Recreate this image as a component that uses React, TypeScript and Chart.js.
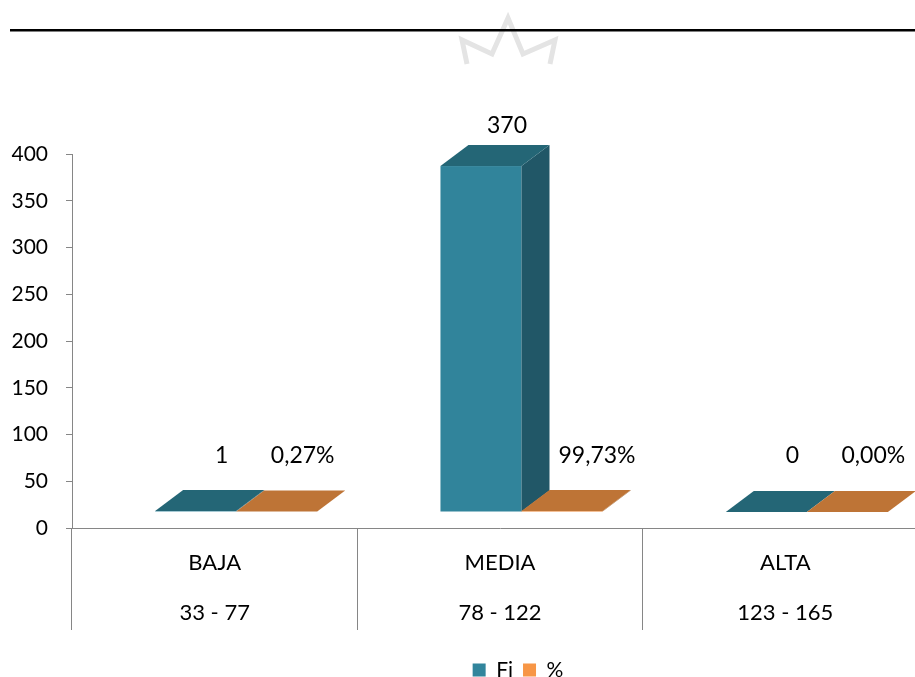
import React, { useEffect, useRef } from "react";
import { Chart, registerables } from "chart.js";

Chart.register(...registerables);

// ---- data ----
const categoryNames = ["BAJA", "MEDIA", "ALTA"];
const categoryRanges = ["33 - 77", "78 - 122", "123 - 165"];
const seriesNames = ["Fi", "%"];
const fiValues = [1, 370, 0];
const pctValues = [0.0027, 0.9973, 0];
const yTicks = [0, 50, 100, 150, 200, 250, 300, 350, 400];

// ---- styling / layout ----
const FONT = "Lato";
const W = 928;
const H = 692;
const AREA_LEFT = 72;
const AREA_TOP = 154;
const AREA_BOTTOM = 528;
const DX = 28;
const DY = -21;
const SHIFT_X = 21.5;
const SHIFT_Y = -16;
const TICK_SIZE = 21;
const CAT_SIZE = 22;
const LABEL_SIZE = 23;
const LEG_SIZE = 21;
const LEG_BOX = 13;
const LEG_PAD = 10;
const LEG_CENTER_X = 518;
const LEG_CENTER_Y = 670;
const LEG_H = Math.max(LEG_SIZE, LEG_BOX) + LEG_PAD + 10;

const palette = [
  { legend: "#31859C", front: "#31849B", top: "#246676", side: "#215767" },
  { legend: "#F79646", front: "#E46C0A", top: "#BE7436", side: "#9A5A24" },
];

const fmtLabel = (di: number, v: number) =>
  di === 0 ? String(v) : (v * 100).toFixed(2).replace(".", ",") + "%";

const bars3d = {
  id: "bars3d",
  beforeDatasetsDraw(chart: any) {
    const ctx = chart.ctx;
    ctx.save();
    ctx.font = `${LABEL_SIZE}px ${FONT}`;
    const labels: { x: number; y: number; text: string }[] = [];
    const boxes: { l: number; r: number; t: number; b: number }[][] = [];
    chart.data.datasets.forEach((ds: any, di: number) => {
      const meta = chart.getDatasetMeta(di);
      const col = palette[di];
      boxes[di] = [];
      meta.data.forEach((el: any, i: number) => {
        const { x, y, base, width } = el.getProps(["x", "y", "base", "width"], true);
        const l = x - width / 2 + SHIFT_X;
        const r = l + width;
        const t = Math.min(y, base) + SHIFT_Y;
        const b = base + SHIFT_Y;
        boxes[di][i] = { l, r, t, b };
        if (b - t > 0.3) {
          ctx.fillStyle = col.front;
          ctx.fillRect(l, t, width, b - t);
        }
        ctx.fillStyle = col.side;
        ctx.beginPath();
        ctx.moveTo(r, t);
        ctx.lineTo(r + DX, t + DY);
        ctx.lineTo(r + DX, b + DY);
        ctx.lineTo(r, b);
        ctx.closePath();
        ctx.fill();
        ctx.fillStyle = col.top;
        ctx.beginPath();
        ctx.moveTo(l, t);
        ctx.lineTo(l + DX, t + DY);
        ctx.lineTo(r + DX, t + DY);
        ctx.lineTo(r, t);
        ctx.closePath();
        ctx.fill();
        const text = fmtLabel(di, ds.data[i]);
        let lx = x + SHIFT_X + DX - 2;
        const ly = Math.min(t + DY - 19, b + DY - 35);
        // keep clear of the previous series' bar in the same category
        if (di > 0) {
          const pb = boxes[di - 1][i];
          const w = ctx.measureText(text).width;
          if (pb && pb.t + DY < ly && lx - w / 2 < pb.r + DX + 9) {
            lx = pb.r + DX + 9 + w / 2;
          }
        }
        labels.push({ x: lx, y: ly, text });
      });
    });
    ctx.fillStyle = "#000";
    ctx.textAlign = "center";
    ctx.textBaseline = "middle";
    labels.forEach((lb) => ctx.fillText(lb.text, lb.x, lb.y));
    ctx.restore();
    return false;
  },
};

const legendPlacer = {
  id: "legendPlacer",
  beforeDraw(chart: any) {
    const lg = chart.legend;
    if (!lg) return;
    lg.left = LEG_CENTER_X - 400;
    lg.right = LEG_CENTER_X + 400;
    lg.top = LEG_CENTER_Y - LEG_PAD - Math.max(LEG_SIZE, LEG_BOX) / 2;
  },
};

export default function App() {
  const ref = useRef<HTMLCanvasElement>(null);
  useEffect(() => {
    Chart.defaults.font.family = FONT;
    const chart = new Chart(ref.current as HTMLCanvasElement, {
      type: "bar",
      data: {
        labels: categoryNames.map((n, i) => [n, categoryRanges[i]]),
        datasets: [
          { label: seriesNames[0], data: fiValues, backgroundColor: palette[0].legend, borderWidth: 0 },
          { label: seriesNames[1], data: pctValues, backgroundColor: palette[1].legend, borderWidth: 0 },
        ],
      },
      options: {
        responsive: false,
        animation: false,
        devicePixelRatio: 1,
        layout: { padding: { top: AREA_TOP, left: 0, right: 0, bottom: 0 } },
        datasets: { bar: { categoryPercentage: 0.568, barPercentage: 1 } } as any,
        plugins: {
          tooltip: { enabled: false },
          title: { display: false },
          legend: {
            display: true,
            position: "bottom",
            labels: {
              boxWidth: LEG_BOX,
              boxHeight: LEG_BOX,
              padding: LEG_PAD,
              color: "#000",
              font: { family: FONT, size: LEG_SIZE },
            },
          },
        },
        scales: {
          x: {
            type: "category",
            offset: true,
            grid: {
              display: true,
              offset: true,
              drawOnChartArea: false,
              drawTicks: true,
              tickLength: 102,
              color: "#868686",
              lineWidth: 1,
            },
            border: { display: true, color: "#868686", width: 1 },
            ticks: {
              color: "#000",
              font: { family: FONT, size: CAT_SIZE, lineHeight: 50 / CAT_SIZE },
              padding: -92,
              maxRotation: 0,
              minRotation: 0,
              autoSkip: false,
            },
            afterFit: (s: any) => {
              s.height = H - LEG_H - AREA_BOTTOM;
            },
          },
          y: {
            type: "linear",
            min: 0,
            max: 400,
            afterBuildTicks: (s: any) => {
              s.ticks = yTicks.map((v) => ({ value: v }));
            },
            afterFit: (s: any) => {
              s.width = AREA_LEFT;
            },
            grid: {
              display: true,
              drawOnChartArea: false,
              drawTicks: true,
              tickLength: 6,
              color: "#868686",
              lineWidth: 1,
            },
            border: { display: true, color: "#868686", width: 1 },
            ticks: {
              color: "#000",
              font: { family: FONT, size: TICK_SIZE },
              padding: 18,
            },
          },
        },
      },
      plugins: [bars3d, legendPlacer],
    });
    return () => chart.destroy();
  }, []);

  return (
    <div
      style={{
        position: "absolute",
        left: 0,
        top: 0,
        width: 915,
        height: 677,
        overflow: "hidden",
        background: "#fff",
      }}
    >
      <canvas
        ref={ref}
        width={W}
        height={H}
        style={{ position: "absolute", left: 0, top: 0, width: W, height: H }}
      />
      <svg
        width={915}
        height={80}
        style={{ position: "absolute", left: 0, top: 0 }}
      >
        <polyline
          points="467,64 462,40 492,54 508,18 523,54 555,40 550,64"
          fill="none"
          stroke="#e4e4e4"
          strokeWidth={5}
          strokeLinejoin="miter"
        />
        <rect x={10} y={29} width={905} height={2.5} fill="#000" />
      </svg>
    </div>
  );
}
